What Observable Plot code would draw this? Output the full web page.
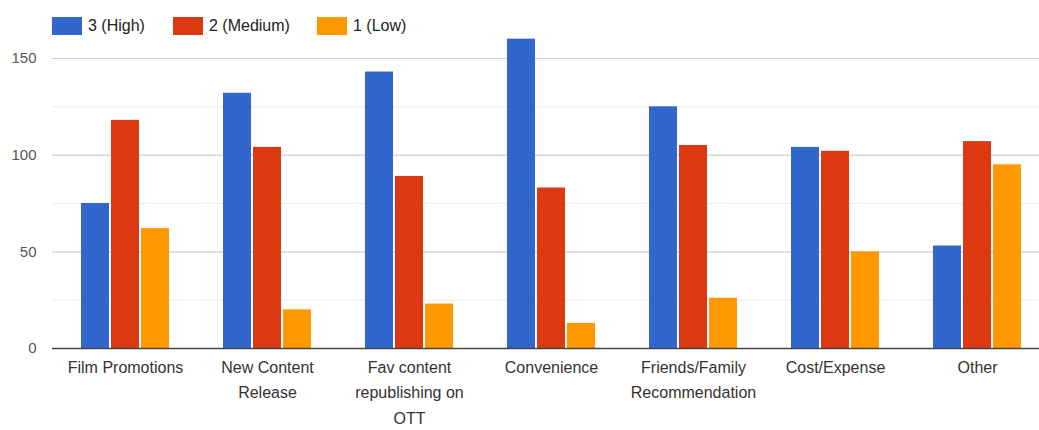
<!DOCTYPE html>
<html>
<head>
<meta charset="utf-8">
<script src="https://cdn.jsdelivr.net/npm/d3@7"></script>
<script src="https://cdn.jsdelivr.net/npm/@observablehq/plot@0.6"></script>
<style>
  html, body { margin: 0; padding: 0; background: #fff; overflow: hidden; }
  #wrap { width: 1039px; font-family: "Liberation Sans", Arial, sans-serif; }
  #legend { position: relative; height: 34px; }
  .item { position: absolute; top: 17px; display: flex; align-items: center; font-size: 16px; color: #222; line-height: 18px; }
  .sw { width: 30px; height: 18px; margin-right: 6px; }
</style>
</head>
<body>
<div id="wrap">
  <div id="legend"></div>
  <div id="chart"></div>
</div>
<script>
const categories = ["Film Promotions", "New Content Release", "Fav content republishing on OTT", "Convenience", "Friends/Family Recommendation", "Cost/Expense", "Other"];
const tickLabels = ["Film Promotions", "New Content\nRelease", "Fav content\nrepublishing on\nOTT", "Convenience", "Friends/Family\nRecommendation", "Cost/Expense", "Other"];
const seriesNames = ["3 (High)", "2 (Medium)", "1 (Low)"];
const high = [75, 132, 143, 160, 125, 104, 53];
const medium = [118, 104, 89, 83, 105, 102, 107];
const low = [62, 20, 23, 13, 26, 50, 95];
const yTicks = [0, 50, 100, 150];
const minorGrid = [25, 75, 125];
const majorGrid = [50, 100, 150];

const colors = ["#3366cc", "#dc3912", "#ff9900"];
const seriesValues = [high, medium, low];
const offsets = [-30, 0, 30];

// legend
const legendLeft = [52, 173, 317];
const legend = document.getElementById("legend");
seriesNames.forEach((name, i) => {
  const it = document.createElement("div");
  it.className = "item";
  it.style.left = legendLeft[i] + "px";
  it.innerHTML = `<div class="sw" style="background:${colors[i]}"></div><span>${name}</span>`;
  legend.appendChild(it);
});

const rows = seriesValues.map(vals => categories.map((c, j) => ({category: c, value: vals[j]})));
const labelMap = new Map(categories.map((c, i) => [c, tickLabels[i]]));

const chart = Plot.plot({
  width: 1039,
  height: 396,
  marginLeft: 52,
  marginRight: -11,
  marginTop: 0,
  marginBottom: 82,
  style: {fontFamily: "'Liberation Sans', Arial, sans-serif", fontSize: "15px", color: "#444", overflow: "visible", background: "#fff"},
  x: {domain: categories, paddingInner: 0.8036, paddingOuter: 0.4018, axis: null},
  y: {domain: [0, 162.4], axis: null},
  marks: [
    Plot.ruleY(minorGrid, {stroke: "#ececec", strokeWidth: 1}),
    Plot.ruleY(majorGrid, {stroke: "#cfcfcf", strokeWidth: 1.2}),
    ...rows.map((r, i) => Plot.barY(r, {x: "category", y: "value", fill: colors[i], dx: offsets[i]})),
    Plot.ruleY([0], {stroke: "#444", strokeWidth: 1.6}),
    Plot.axisY({ticks: yTicks, tickSize: 0, tickPadding: 16, fontSize: 15, fill: "#555", label: null}),
    Plot.axisX({tickSize: 0, tickPadding: 6, fontSize: 16, fill: "#333", lineHeight: 1.6, label: null, tickFormat: d => labelMap.get(d)})
  ]
});
document.getElementById("chart").appendChild(chart);
</script>
</body>
</html>
